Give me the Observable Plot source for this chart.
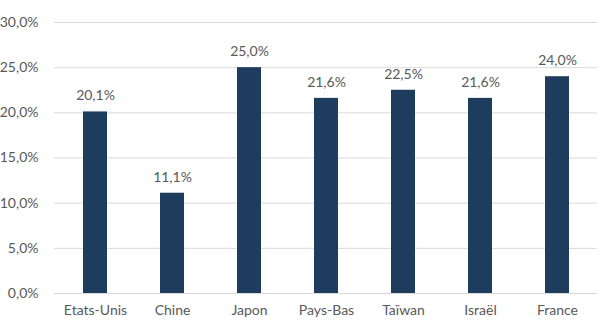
<!DOCTYPE html>
<html>
<head>
<meta charset="utf-8">
<script src="https://cdn.jsdelivr.net/npm/d3@7"></script>
<script src="https://cdn.jsdelivr.net/npm/@observablehq/plot@0.6"></script>
<style>
  html, body { margin: 0; padding: 0; background: #fff; }
  #chart { width: 600px; height: 320px; }
</style>
</head>
<body>
<div id="chart"></div>
<script>
const categories = ["Etats-Unis", "Chine", "Japon", "Pays-Bas", "Taïwan", "Israël", "France"];
const values = [20.1, 11.1, 25.0, 21.6, 22.5, 21.6, 24.0];
const yTicks = [0, 5, 10, 15, 20, 25, 30];

const data = categories.map((c, i) => ({ pays: c, valeur: values[i] }));
const fmt = v => v.toFixed(1).replace(".", ",") + "%";

const chart = Plot.plot({
  width: 600,
  height: 320,
  marginTop: 22,
  marginBottom: 27,
  marginLeft: 54,
  marginRight: 3,
  style: { fontFamily: "Lato, 'Open Sans', sans-serif", fontSize: "14px", color: "#595959", background: "#fff" },
  x: { domain: categories, paddingInner: 0.69, paddingOuter: 0.345, label: null, tickSize: 0, tickPadding: 12 },
  y: { domain: [0, 30], ticks: yTicks, tickFormat: fmt, label: null, tickSize: 0, tickPadding: 16 },
  marks: [
    Plot.gridY(yTicks, { stroke: "#D9D9D9", strokeOpacity: 1, strokeWidth: 1 }),
    Plot.barY(data, { x: "pays", y: "valeur", fill: "#1E3C5E" }),
    Plot.text(data, { x: "pays", y: "valeur", text: d => fmt(d.valeur), dy: -16, fill: "#595959", fontSize: 14 })
  ]
});
document.getElementById("chart").appendChild(chart);
</script>
</body>
</html>
